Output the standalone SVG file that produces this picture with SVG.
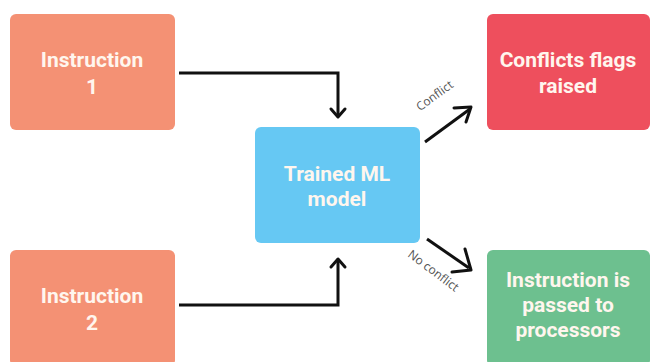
<svg xmlns="http://www.w3.org/2000/svg" width="650" height="362" viewBox="0 0 650 362">
  <style>
    .box-text { font-family: Roboto, "Liberation Sans", sans-serif; font-weight: 700; font-size: 21px; fill: #FFF6EE; text-anchor: middle; }
    .edge { fill: none; stroke: #111; stroke-width: 3; stroke-linejoin: miter; }
    .head { fill: none; stroke: #111; stroke-width: 3; stroke-linecap: round; stroke-linejoin: round; }
    .lbl { font-family: "Open Sans", "Liberation Sans", sans-serif; font-size: 12px; fill: #555; text-anchor: middle; }
  </style>
  <rect width="650" height="362" fill="#ffffff"/>

  <g id="instruction1">
    <rect x="10" y="14" width="165" height="116" rx="6" fill="#F49174"/>
    <text class="box-text" x="92" y="67">Instruction</text>
    <text class="box-text" x="92" y="94">1</text>
  </g>

  <g id="instruction2">
    <rect x="10" y="250" width="165" height="116" rx="6" fill="#F49174"/>
    <text class="box-text" x="92" y="303">Instruction</text>
    <text class="box-text" x="92" y="330">2</text>
  </g>

  <g id="ml-model">
    <rect x="255" y="127" width="165" height="116" rx="6" fill="#66C8F3"/>
    <text class="box-text" x="337" y="181">Trained ML</text>
    <text class="box-text" x="337" y="206">model</text>
  </g>

  <g id="conflicts">
    <rect x="487" y="14" width="163" height="116" rx="6" fill="#EE4F5D"/>
    <text class="box-text" x="568" y="67">Conflicts flags</text>
    <text class="box-text" x="568" y="93">raised</text>
  </g>

  <g id="passed">
    <rect x="487" y="250" width="163" height="116" rx="6" fill="#6DC08F"/>
    <text class="box-text" x="568" y="287">Instruction is</text>
    <text class="box-text" x="568" y="312">passed to</text>
    <text class="box-text" x="568" y="337">processors</text>
  </g>

  <g id="connectors">
    <path class="edge" d="M179 73 H338 V116"/>
    <path class="head" d="M331 109 L338 117 L345 109"/>
    <path class="edge" d="M179 305 H338 V260"/>
    <path class="head" d="M331 267 L338 259 L345 267"/>
    <path class="edge" d="M425 142 L470 109"/>
    <path class="head" d="M454 108 L471 107 L466 122"/>
    <path class="edge" d="M427 239 L469 268"/>
    <path class="head" d="M465 249 L471 270 L452 272"/>
    <text class="lbl" transform="translate(437 99) rotate(-36)">Conflict</text>
    <text class="lbl" transform="translate(431 274) rotate(37)">No conflict</text>
  </g>
</svg>
